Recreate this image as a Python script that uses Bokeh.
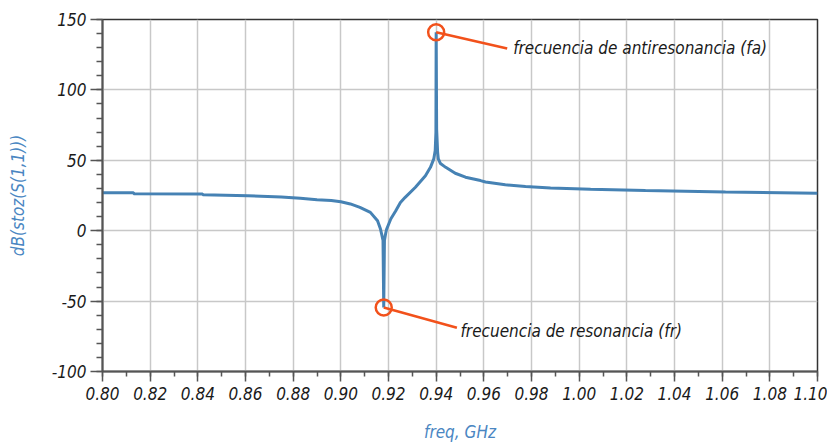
import numpy as np
from bokeh.plotting import figure
from bokeh.models import FixedTicker, NumeralTickFormatter, PrintfTickFormatter, Range1d, ColumnDataSource
from bokeh.core.properties import value
from bokeh.embed import file_html
from bokeh.resources import INLINE

# ---- data ----
freq_ghz = [0.800, 0.813, 0.8131, 0.842, 0.8421, 0.861, 0.875, 0.883, 0.890, 0.896,
            0.900, 0.904, 0.908, 0.9124, 0.9154, 0.9166, 0.9172, 0.9177, 0.9180,
            0.9183, 0.9188, 0.9192, 0.921, 0.923, 0.925, 0.927, 0.9313, 0.9355,
            0.9376, 0.939, 0.9396, 0.9399, 0.9400, 0.9402, 0.9406, 0.9409, 0.9418,
            0.944, 0.948, 0.9523, 0.9586, 0.9607, 0.969, 0.9775, 0.988, 1.0048,
            1.0278, 1.0614, 1.100]
db_stoz = [27.0, 27.0, 26.2, 26.0, 25.5, 24.8, 24.0, 23.0, 22.0, 21.5,
           20.5, 19.0, 16.6, 13.0, 7.0, 1.4, -3.0, -7.0, -54.5,
           -7.0, -2.0, 1.0, 8.5, 14.0, 20.0, 23.7, 30.9, 39.0,
           45.0, 51.0, 57.0, 70.0, 141.0, 72.0, 56.0, 51.0, 47.7,
           45.0, 40.8, 38.0, 35.6, 34.6, 32.6, 31.4, 30.4, 29.4,
           28.5, 27.5, 26.6]

x_major = [0.80, 0.82, 0.84, 0.86, 0.88, 0.90, 0.92, 0.94, 0.96, 0.98, 1.00, 1.02, 1.04, 1.06, 1.08, 1.10]
y_major = [-100, -50, 0, 50, 100, 150]

annot_texts = ["frecuencia de resonancia (fr)", "frecuencia de antiresonancia (fa)"]
annot_end_x = [0.9487, 0.9698]
annot_end_y = [-68.9, 129.4]
annot_text_x = [0.9502, 0.9723]
annot_text_y = [-71.2, 129.6]

FONT = "DejaVu Sans Condensed"
BLUE = "#4682b4"
ORANGE = "#f2511b"

p = figure(width=827, height=445, output_backend="svg", toolbar_location=None,
           x_range=Range1d(0.80, 1.10), y_range=Range1d(-100, 150),
           min_border_left=102, min_border_top=19, min_border_right=10, min_border_bottom=74)

p.background_fill_color = "white"
p.border_fill_color = "white"
p.outline_line_color = "#333333"
p.outline_line_width = 1.5

# grid
p.xgrid.ticker = FixedTicker(ticks=x_major)
p.ygrid.ticker = FixedTicker(ticks=y_major)
for g in (p.xgrid, p.ygrid):
    g.grid_line_color = "#c8c8c8"
    g.grid_line_width = 1.5

# axes
x_minor = [round(0.80 + 0.01 * i, 2) for i in range(31)]
y_minor = list(range(-100, 151, 10))
p.xaxis.ticker = FixedTicker(ticks=x_major, minor_ticks=x_minor)
p.yaxis.ticker = FixedTicker(ticks=y_major, minor_ticks=y_minor)
p.xaxis.formatter = NumeralTickFormatter(format="0.00")
p.yaxis.formatter = PrintfTickFormatter(format="%d")

for ax in (p.xaxis, p.yaxis):
    ax.axis_line_color = "#555555"
    ax.axis_line_width = 2
    ax.major_tick_line_color = "#555555"
    ax.minor_tick_line_color = "#555555"
    ax.major_tick_line_width = 1.5
    ax.minor_tick_line_width = 1.5
    ax.major_tick_in = 0
    ax.minor_tick_in = 0
    ax.major_label_text_font = FONT
    ax.major_label_text_font_style = "italic"
    ax.major_label_text_font_size = "17px"
    ax.major_label_text_color = "#1a1a1a"
    ax.axis_label_text_font = FONT
    ax.axis_label_text_font_style = "italic"
    ax.axis_label_text_font_size = "17px"
    ax.axis_label_text_color = "#4a86c2"

p.xaxis.major_tick_out = 10
p.xaxis.minor_tick_out = 5
p.yaxis.major_tick_out = 12
p.yaxis.minor_tick_out = 6
p.xaxis.major_label_standoff = 5
p.yaxis.major_label_standoff = 4
p.xaxis.axis_label = "freq, GHz"
p.yaxis.axis_label = "dB(stoz(S(1,1)))"
p.xaxis.axis_label_standoff = 19
p.yaxis.axis_label_standoff = 21

# curve
p.line(freq_ghz, db_stoz, line_color=BLUE, line_width=3)

# markers at the resonance (min) and antiresonance (max)
f = np.array(freq_ghz)
d = np.array(db_stoz)
i_min = int(np.argmin(d))
i_max = int(np.argmax(d))
mx = [f[i_min], f[i_max]]
my = [d[i_min], d[i_max]]

p.segment(x0=mx, y0=my, x1=annot_end_x, y1=annot_end_y, line_color=ORANGE, line_width=2.5)
p.scatter(mx, my, size=16, marker="circle", fill_color="white", fill_alpha=0.0,
          line_color=ORANGE, line_width=2.5)

src = ColumnDataSource(dict(x=annot_text_x, y=annot_text_y, t=annot_texts))
p.text(x="x", y="y", text="t", source=src, text_font=value(FONT), text_font_style="italic",
       text_font_size="17px", text_color="#1a1a1a", text_baseline="middle", text_align="left")

open("out.html", "w").write(file_html(p, INLINE))
